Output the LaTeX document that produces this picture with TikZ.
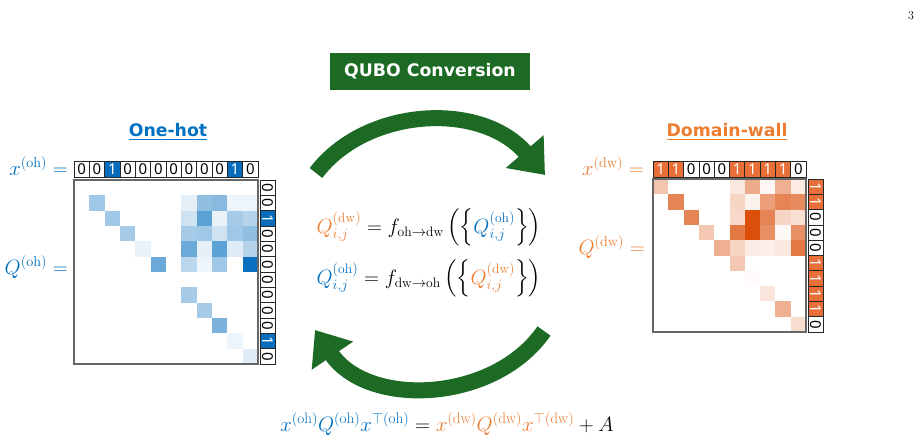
\documentclass[tikz,border=0pt]{standalone}
\usepackage{fontspec}
\usepackage{amsmath}
\usetikzlibrary{arrows.meta}
\newfontfamily\labelfont{Noto Sans}
\newfontfamily\titlefont{DejaVu Sans}
\definecolor{ohc}{RGB}{0,112,192}
\definecolor{dwc}{RGB}{237,125,49}
\definecolor{ohbase}{RGB}{8,112,190}
\definecolor{dwbase}{RGB}{217,72,1}
\definecolor{ohfill}{RGB}{8,108,188}
\definecolor{dwfill}{RGB}{232,112,56}
\definecolor{qgreen}{RGB}{28,106,36}
\begin{document}
\begin{tikzpicture}[x=1pt,y=-1pt,
  vcell/.style={draw=black!85, line width=0.8pt, minimum size=15.3pt, inner sep=0pt,
    font=\labelfont\fontsize{15}{15}\selectfont},
  ohv0/.style={vcell, fill=white},
  ohv1/.style={vcell, fill=ohfill, text=white},
  dwv0/.style={vcell, fill=white},
  dwv1/.style={vcell, fill=dwfill, text=white},
  mlabel/.style={anchor=base east, inner sep=0pt, font=\fontsize{20.5}{24}\selectfont},
  eqn/.style={anchor=base, inner sep=0pt, font=\fontsize{19.5}{24}\selectfont},
  title/.style={inner sep=0pt, font=\titlefont\bfseries\fontsize{17.3}{18}\selectfont},
  frame/.style={draw=black!60, line width=1.2pt},
  bigarrow/.style={draw=qgreen, line width=16pt, -{Triangle[length=31pt,width=48pt]}}
]
\useasboundingbox (0,0) rectangle (923,440);

% page number
\node[inner sep=0pt, font=\fontsize{12}{12}\selectfont] (page) at (911,16) {3};

% banner
\node[fill=qgreen, text=white, minimum width=200pt, minimum height=37pt, inner sep=0pt,
  font=\titlefont\bfseries\fontsize{17.3}{18}\selectfont] (banner) at (430,71.5) {QUBO Conversion};

% arrows
\coordinate (a1s) at (316,173);
\coordinate (a1e) at (545,175);
\draw[bigarrow] (a1s) .. controls (365,108) and (480,100) .. (a1e);
\coordinate (a2s) at (544,331);
\coordinate (a2e) at (315,330);
\draw[bigarrow] (a2s) .. controls (494,403) and (368,408) .. (a2e);

% titles
\node[title, text=ohc] (tOH) at (168,132) {\underline{One-hot}};
\node[title, text=dwc] (tDW) at (727,132) {\underline{Domain-wall}};

% ---------- left (one-hot) ----------
\foreach \r/\c/\p in {1/1/39,2/2/39,3/3/36,4/4/9,5/5/60,7/7/36,8/8/36,9/9/53,10/10/7,11/11/13,
  1/7/11,1/8/45,1/9/48,1/10/7,1/11/7,
  2/7/20,2/8/66,2/9/9,2/10/36,2/11/30,
  3/7/36,3/8/39,3/9/20,3/10/39,3/11/45,
  4/7/60,4/8/11,4/9/66,4/10/13,4/11/30,
  5/7/28,5/8/7,5/9/39,5/11/100}
  \fill[ohbase!\p!white] ({74+\c*15.33},{180+\r*15.33}) rectangle ++(15.33,15.33);
\draw[frame] (74,180) rectangle (258,364);
\foreach \v [count=\i from 0] in {0,0,1,0,0,0,0,0,0,0,1,0} {
  \node[ohv\v] (ohx\i) at ({74+(\i+0.5)*15.33},169.5) {\v};
  \node[ohv\v, rotate=-90] (ohy\i) at (267.7,{180+(\i+0.5)*15.33}) {\v};
}
\node[mlabel, text=ohc] (lxoh) at (68,175) {$x^{(\mathrm{oh})}=$};
\node[mlabel, text=ohc] (lqoh) at (68,274) {$Q^{(\mathrm{oh})}=$};

% ---------- right (domain-wall) ----------
\foreach \r/\c/\p in {0/0/32,0/5/13,0/6/46,0/7/5,0/8/43,0/9/11,
  1/1/67,1/5/23,1/6/7,1/7/53,1/8/67,1/9/63,
  2/2/67,2/5/21,2/6/96,2/7/67,2/8/23,2/9/17,
  3/3/30,3/5/74,3/6/96,3/7/61,3/8/3,3/9/61,
  4/4/43,4/5/23,4/6/10,4/7/9,4/8/13,4/9/74,
  5/5/30,6/6/2,7/7/14,8/8/43,9/9/19}
  \fill[dwbase!\p!white] ({653+\c*15.3},{179+\r*15.3}) rectangle ++(15.3,15.3);
\draw[frame] (653,179) rectangle (806,332);
\foreach \v [count=\i from 0] in {1,1,0,0,0,1,1,1,1,0} {
  \node[dwv\v] (dwx\i) at ({653+(\i+0.5)*15.3},169.5) {\v};
  \node[dwv\v, rotate=-90] (dwy\i) at (816.2,{179+(\i+0.5)*15.3}) {\v};
}
\node[mlabel, text=dwc] (lxdw) at (644,175) {$x^{(\mathrm{dw})}=$};
\node[mlabel, text=dwc] (lqdw) at (645,254) {$Q^{(\mathrm{dw})}=$};

% ---------- centre formulas ----------
\node[eqn] (f1) at (429,233) {$\textcolor{dwc}{Q^{(\mathrm{dw})}_{i,j}} = f_{\mathrm{oh}\to\mathrm{dw}}\left(\left\{\textcolor{ohc}{Q^{(\mathrm{oh})}_{i,j}}\right\}\right)$};
\node[eqn] (f2) at (429,284) {$\textcolor{ohc}{Q^{(\mathrm{oh})}_{i,j}} = f_{\mathrm{dw}\to\mathrm{oh}}\left(\left\{\textcolor{dwc}{Q^{(\mathrm{dw})}_{i,j}}\right\}\right)$};

% ---------- bottom formula ----------
\node[eqn, font=\fontsize{21.7}{26}\selectfont] (f3) at (447,431) {$\textcolor{ohc}{x^{(\mathrm{oh})}Q^{(\mathrm{oh})}x^{\top(\mathrm{oh})}} = \textcolor{dwc}{x^{(\mathrm{dw})}Q^{(\mathrm{dw})}x^{\top(\mathrm{dw})}} + A$};
\end{tikzpicture}
\end{document}
